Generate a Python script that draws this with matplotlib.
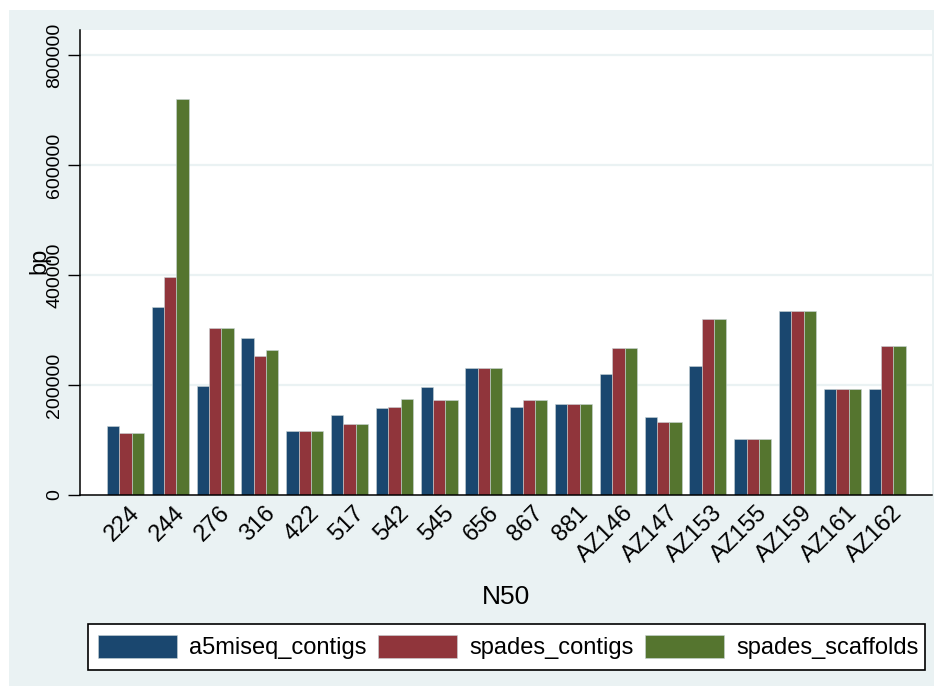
import numpy as np
import matplotlib
matplotlib.use("Agg")
from matplotlib import pyplot as plt
from matplotlib.patches import Rectangle

plt.rcParams['font.family'] = ['Liberation Sans', 'DejaVu Sans']

# N50 per assembly (bp)
samples = ['224', '244', '276', '316', '422', '517', '542', '545', '656',
           '867', '881', 'AZ146', 'AZ147', 'AZ153', 'AZ155', 'AZ159',
           'AZ161', 'AZ162']
a5miseq_contigs = [125400, 341200, 198800, 286000, 116400, 146000, 158800,
                   196900, 230300, 160600, 164900, 220000, 142400, 235100,
                   101800, 334500, 192700, 192700]
spades_contigs = [112100, 396900, 303000, 253300, 116400, 128500, 160000,
                  172100, 230300, 172700, 164900, 267300, 133300, 319400,
                  101800, 334500, 192700, 270300]
spades_scaffolds = [112100, 719400, 303000, 263600, 116400, 128500, 174500,
                    172100, 230300, 172700, 164900, 267300, 133300, 319400,
                    101800, 334500, 192700, 270300]
series_names = ['a5miseq_contigs', 'spades_contigs', 'spades_scaffolds']
yticks = [0, 200000, 400000, 600000, 800000]

bg = '#eaf2f3'
colors = ['#1a476f', '#90353b', '#55752f']

fig = plt.figure(figsize=(9.34, 6.86), dpi=100, facecolor='white')
# light panel behind everything, white strip at top and left
fig.patches.append(Rectangle((9 / 934, 0), 1 - 9 / 934, 676 / 686,
                             transform=fig.transFigure, facecolor=bg,
                             edgecolor='none', zorder=-10))

ax = fig.add_axes([80 / 934, 1 - 495 / 686, 852 / 934, 465 / 686])
ax.set_facecolor('white')

x = np.arange(len(samples))
w = 0.275
for k, (vals, name) in enumerate(zip([a5miseq_contigs, spades_contigs,
                                      spades_scaffolds], series_names)):
    ax.bar(x + (k - 1) * w, vals, width=w, color=colors[k], label=name,
           edgecolor='#c8d4d6', linewidth=0.4, zorder=3)

ax.set_xlim(-1.016, 18.0)
ax.set_ylim(0, 845450)
ax.set_yticks(yticks)
ax.set_yticklabels([str(v) for v in yticks], rotation=90, va='center',
                   fontsize=14)
ax.set_xticks(x + 0.08)
ax.set_xticklabels(samples, rotation=45, ha='right', va='top',
                   rotation_mode='anchor', fontsize=17)
ax.tick_params(axis='x', length=0, pad=5)
ax.tick_params(axis='y', length=9, width=1, pad=3)

for v in yticks[1:]:
    ax.axhline(v, color=bg, linewidth=1.6, zorder=1)

for s in ['top', 'right']:
    ax.spines[s].set_visible(False)
ax.spines['left'].set_linewidth(1.1)
ax.spines['bottom'].set_linewidth(1.1)
ax.spines['bottom'].set_zorder(4)

fig.text(39 / 934, 1 - 261 / 686, 'bp', rotation=90, ha='center',
         va='center', fontsize=17)
fig.text(506 / 934, 1 - 597 / 686, 'N50', ha='center', va='center',
         fontsize=19)

# legend box drawn separately (the last label runs past it, as in Stata)
fig.patches.append(Rectangle((88 / 934, 1 - 670 / 686), 837 / 934, 46 / 686,
                             transform=fig.transFigure, facecolor='white',
                             edgecolor='black', linewidth=1.2, zorder=1))
handles, labels = ax.get_legend_handles_labels()
leg = fig.legend(handles, labels, loc='center left',
                 bbox_to_anchor=(98 / 934, 1 - 647 / 686),
                 ncol=3, fontsize=17, frameon=False,
                 handlelength=3.35, handleheight=1.15, handletextpad=0.5,
                 columnspacing=0.5, borderpad=0, borderaxespad=0)
leg.set_zorder(2)

fig.savefig('out.png', dpi=100, facecolor=fig.get_facecolor())
